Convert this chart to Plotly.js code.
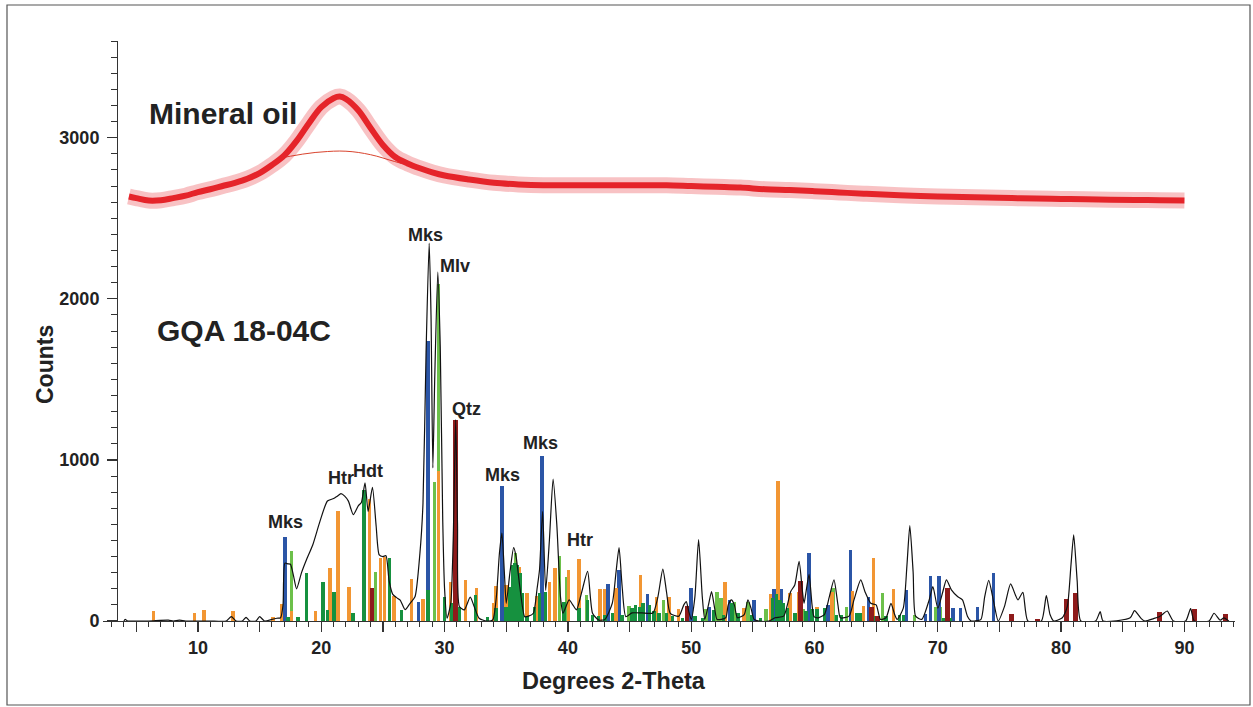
<!DOCTYPE html>
<html>
<head>
<meta charset="utf-8">
<script src="https://cdn.plot.ly/plotly-3.0.1.min.js"></script>
<style>html,body{margin:0;padding:0;background:#fff;}#chart{width:1253px;height:707px;}</style>
</head>
<body>
<div id="chart"></div>
<script>
// ---------------- DATA ----------------
// Mineral oil scan (mean of the noisy trace), degrees 2-theta / counts
const oilX = [4.4,5,6,7,8,9,10,11,12,13,14,15,16,17,18,19,20,21,21.5,22,23,24,25,26,27,28,29,30,32,34,36,38,40,42,44,46,48,50,52,54,56,58,60,62,64,66,68,70,72,74,76,78,80,82,84,86,88,90];
const oilY = [2635,2625,2610,2612,2625,2640,2662,2680,2700,2720,2745,2780,2830,2890,2980,3090,3190,3245,3255,3240,3170,3060,2955,2880,2840,2810,2785,2765,2740,2720,2710,2705,2705,2705,2705,2705,2705,2700,2695,2690,2680,2675,2668,2660,2652,2645,2640,2635,2632,2628,2625,2622,2620,2618,2615,2613,2612,2610];
// Mineral oil fitted background hump
const bgX = [16.5,17.5,18.5,19.5,20.5,21.5,22.5,23.5,24.5,25.5,26.5];
const bgY = [2870,2885,2898,2908,2914,2917,2913,2902,2885,2862,2840];

// Sample GQA 18-04C pattern
const patX = [4.0,4.1,4.3,5.0,6.0,7.6,8.0,8.5,9.0,10.0,11.0,12.3,12.7,13.1,13.6,13.9,14.2,14.7,15.0,15.4,16.0,16.4,16.7,16.9,17.05,17.3,17.5,17.75,18.0,18.4,18.8,19.3,19.9,20.5,21.0,21.3,21.6,21.9,22.2,22.6,23.0,23.25,23.55,23.8,24.15,24.45,24.7,25.0,25.25,25.5,25.8,26.1,26.4,26.8,27.2,27.6,28.0,28.25,28.5,28.75,28.9,29.05,29.2,29.45,29.65,29.85,30.0,30.2,30.5,30.7,30.9,31.05,31.2,31.6,32.08,32.4,32.8,33.4,33.9,34.2,34.45,34.65,34.85,35.0,35.3,35.6,35.8,36.1,36.5,36.8,37.2,37.5,37.7,37.95,38.2,38.5,38.8,39.1,39.4,39.6,40.1,40.4,40.7,41.1,41.6,42.0,42.5,43.0,43.6,43.9,44.15,44.4,44.7,45.2,46.0,46.9,47.3,47.7,48.0,48.3,49.0,49.4,49.6,49.8,50.0,50.3,50.6,50.9,51.1,51.4,51.65,51.9,52.1,52.8,53.0,53.26,53.5,53.75,54.3,54.6,54.85,55.1,55.5,56.3,56.8,57.5,57.8,58.07,58.4,58.75,59.0,59.15,59.35,59.56,59.8,59.96,60.3,60.8,61.2,61.58,61.9,62.1,62.8,63.2,63.75,64.1,64.56,65.0,65.35,65.8,66.2,66.5,66.7,67.2,67.5,67.73,68.0,68.2,68.7,69.3,69.6,70.0,70.4,70.7,71.1,71.6,72.0,72.4,72.7,73.0,73.5,73.8,74.13,74.5,74.9,75.4,75.9,76.3,76.5,76.9,77.3,78.4,78.8,79.1,79.4,80.1,80.5,80.8,81.02,81.3,81.6,82.8,83.17,83.4,85.6,85.95,86.5,86.8,87.5,87.9,88.2,88.6,89.1,90.1,90.5,90.8,92.0,92.4,92.9,93.2,93.6];
const patY = [0,10,0,0,0,5,0,5,0,0,0,0,27,0,0,23,0,0,27,0,10,17,20,100,359,355,352,280,200,300,380,470,620,745,760,775,790,775,744,660,715,735,858,680,830,590,410,400,405,250,165,145,130,70,110,150,420,730,1670,2345,1900,950,1500,2165,1700,630,200,17,110,500,1250,600,90,69,148,90,17,0,6,150,422,546,300,110,300,455,400,214,27,30,48,200,318,680,190,500,880,600,150,48,131,100,69,173,308,48,6,10,110,300,455,214,27,50,50,50,150,322,180,48,30,100,120,60,10,150,505,150,10,100,183,80,10,20,100,131,100,20,40,131,80,10,0,0,20,30,100,183,224,370,200,110,200,290,100,27,20,40,150,255,100,20,30,131,255,180,110,100,10,20,110,40,10,80,350,592,300,30,10,131,214,79,180,255,193,152,131,30,0,0,10,150,252,130,0,89,230,160,131,178,0,0,158,40,0,20,89,350,535,250,0,0,58,0,20,64,15,0,15,25,40,62,0,0,77,0,0,48,5,20,0];

// Reference stick patterns (position, intensity)
const mksX = [17.05,27.9,28.65,34.64,37.9,43.25,44.15,46.47,49.98,51.5,53.1,55.1,56.7,57.34,59.56,61.1,62.93,64.4,67.46,69.0,69.4,70.08,71.24,71.84,73.2,74.5];
const mksY = [521,120,1740,835,1024,232,318,165,204,85,131,131,197,197,420,100,440,152,193,44,280,280,79,79,85,297];

const mlvX = [17.59,24.39,29.19,29.5,35.75,39.3,39.9,41.5,44.95,47.75,51.2,52.1,52.4,53.5,54.6,56.05,59.1,61.0,61.5,62.6,65.5,68.1,69.8,70.2];
const mlvY = [432,307,860,2090,421,405,276,162,93,131,73,183,141,120,120,73,73,79,203,85,172,37,89,89];

const hdtX = [17.3,18.1,18.8,20.15,20.5,21.04,22.58,23.47,25.55,26.5,28.65,30.0,30.55,31.2,32.5,33.5,34.18,34.99,35.3,35.5,35.7,35.9,36.1,36.3,36.7,37.3,37.7,38.2,39.7,40.9,41.6,42.0,42.5,43.0,43.6,44.4,45.2,45.5,45.8,46.1,46.6,47.0,47.4,48.0,48.5,49.3,50.3,50.9,51.8,52.6,53.3,53.8,54.9,55.6,56.6,56.9,57.2,57.5,57.8,58.4,59.3,59.8,60.2,60.8,61.8,62.2,63.4,63.7,64.9,65.8,66.9,67.2,70.5,71.0];
const hdtY = [27,27,297,241,68,179,48,816,390,68,193,152,110,90,160,25,80,89,214,349,359,349,297,172,30,89,172,183,120,79,131,40,30,40,50,40,80,100,90,110,100,60,50,48,30,20,30,20,68,40,110,50,40,20,140,170,130,110,80,50,60,73,73,79,40,40,50,50,30,30,40,40,20,20];

const htrX = [6.38,9.7,10.5,12.86,16.1,16.78,17.6,19.53,20.69,21.36,22.25,23.93,24.82,25.15,25.9,27.3,28.25,29.5,30.46,31.7,32.6,34.0,34.18,34.99,36.05,36.7,37.5,38.5,38.95,40.05,40.9,42.6,42.95,43.9,45.9,47.2,48.2,48.95,52.75,54.3,56.45,57.05,58.0,58.7,60.2,61.4,63.1,63.96,64.8,66.4];
const htrY = [64,48,68,62,27,106,64,64,328,681,214,758,390,400,156,260,135,930,245,255,204,110,217,224,338,176,156,240,330,316,384,200,200,204,287,147,152,73,245,79,168,872,176,183,89,183,189,93,390,197];

const qtzX = [24.12,30.89,49.65,58.88,64.6,65.1,70.8,75.97,78.1,80.45,81.15,87.96,90.8,93.35];
const qtzY = [203,1250,92,251,85,31,203,41,10,137,176,58,73,41];

const xTickVals = [5,10,15,20,25,30,35,40,45,50,55,60,65,70,75,80,85,90];
const xTickText = ['','10','','20','','30','','40','','50','','60','','70','','80','','90'];
const yTickVals = [0,1000,2000,3000];
const yTickText = ['0','1000','2000','3000'];

// ---------------- STYLE / LAYOUT ----------------
const FONT = 'Liberation Sans, Arial, Helvetica, sans-serif';
const INK = '#222';
const L = 103, R = 1235, T = 41, B = 621;
const px = x => (x - L) / (R - L);
const py = y => (B - y) / (B - T);

function sticks(x, y, color, w) {
  return {type:'bar', x:x, y:y, width:w, marker:{color:color, line:{width:0}}, hoverinfo:'x+y'};
}

const traces = [
  sticks(mlvX, mlvY, '#6cc04a', 0.28),
  sticks(mksX, mksY, '#2b55a6', 0.28),
  sticks(htrX, htrY, '#f29633', 0.28),
  sticks(hdtX, hdtY, '#16913f', 0.28),
  sticks(qtzX, qtzY, '#8e1b1b', 0.38),
  {type:'scatter', mode:'lines', x:patX, y:patY, line:{color:'#111', width:1.2, shape:'spline', smoothing:0.6}},
  {type:'scatter', mode:'lines', x:bgX, y:bgY, line:{color:'#d9442e', width:1, shape:'spline'}},
  {type:'scatter', mode:'lines', x:oilX, y:oilY, line:{color:'rgba(229,36,42,0.28)', width:16, shape:'spline'}},
  {type:'scatter', mode:'lines', x:oilX, y:oilY, line:{color:'#e5242a', width:6, shape:'spline'}}
];

function lab(text, x, y, size) {
  return {text:text, xref:'paper', yref:'paper', x:px(x), y:py(y), xanchor:'center', yanchor:'middle',
          showarrow:false, font:{family:FONT, size:size||18, weight:'bold', color:INK}};
}

const annotations = [
  {text:'Mineral oil', xref:'paper', yref:'paper', x:px(147), y:py(113), xanchor:'left', yanchor:'middle', showarrow:false,
   font:{family:FONT, size:30, weight:'bold', color:INK}},
  {text:'GQA 18-04C', xref:'paper', yref:'paper', x:px(155), y:py(330), xanchor:'left', yanchor:'middle', showarrow:false,
   font:{family:FONT, size:30, weight:'bold', color:INK}},
  lab('Mks', 425, 235), lab('Mlv', 455, 266), lab('Qtz', 466, 409),
  lab('Mks', 502, 475), lab('Mks', 540, 443), lab('Htr', 580, 540),
  lab('Mks', 285, 522), lab('Htr', 341, 478), lab('Hdt', 368, 471),
  {text:'Counts', xref:'paper', yref:'paper', x:px(45), y:py(364), xanchor:'center', yanchor:'middle', textangle:-90, showarrow:false,
   font:{family:FONT, size:23, weight:'bold', color:INK}},
  {text:'Degrees 2-Theta', xref:'paper', yref:'paper', x:px(614), y:py(681), xanchor:'center', yanchor:'middle', showarrow:false,
   font:{family:FONT, size:23.5, weight:'bold', color:INK}}
];

const layout = {
  width:1253, height:707,
  margin:{l:L, r:1253 - R, t:T, b:707 - B, pad:0},
  paper_bgcolor:'#ffffff', plot_bgcolor:'#ffffff',
  showlegend:false, barmode:'overlay', bargap:0,
  xaxis:{range:[2.3, 94.1], tickmode:'array', tickvals:xTickVals, ticktext:xTickText,
         ticks:'outside', ticklen:10, tickwidth:1.3, tickcolor:'#333',
         showline:true, linecolor:'#333', linewidth:1.3, showgrid:false, zeroline:false,
         minor:{tickmode:'linear', tick0:0, dtick:1, ticks:'outside', ticklen:5, tickwidth:1, tickcolor:'#333', showgrid:false},
         tickfont:{family:FONT, size:18, weight:'bold', color:INK}, fixedrange:true},
  yaxis:{range:[0, 3600], anchor:'free', position:px(117), tickmode:'array', tickvals:yTickVals, ticktext:yTickText,
         ticks:'outside', ticklen:10, tickwidth:1.3, tickcolor:'#333', ticklabelstandoff:4,
         showline:true, linecolor:'#333', linewidth:1.3, showgrid:false, zeroline:false,
         minor:{tickmode:'linear', tick0:0, dtick:100, ticks:'outside', ticklen:6, tickwidth:1, tickcolor:'#333', showgrid:false},
         tickfont:{family:FONT, size:18, weight:'bold', color:INK}, fixedrange:true},
  shapes:[{type:'rect', xref:'paper', yref:'paper', x0:px(7), x1:px(1250), y0:py(5), y1:py(705),
           line:{color:'#555', width:1.2}, fillcolor:'rgba(0,0,0,0)', layer:'below'}],
  annotations:annotations
};

Plotly.newPlot('chart', traces, layout, {displayModeBar:false, staticPlot:true});
</script>
</body>
</html>
